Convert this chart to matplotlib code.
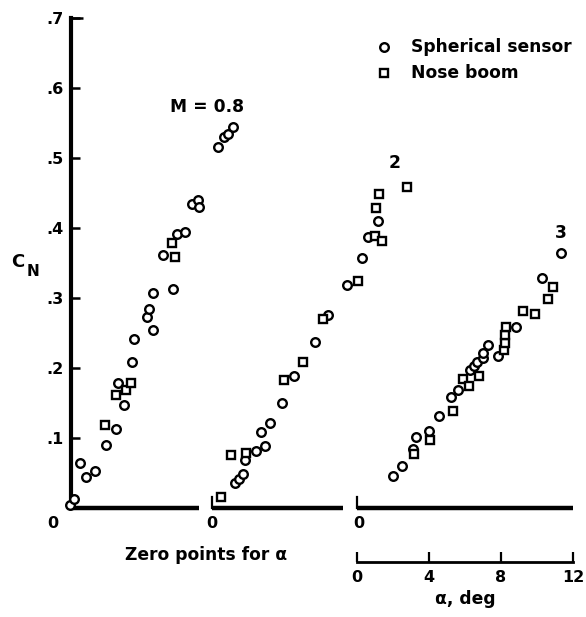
import matplotlib
matplotlib.use("Agg")
import matplotlib.pyplot as plt
from matplotlib.lines import Line2D

# ---------------------------------------------------------------------------
# Normal-force coefficient vs angle of attack, three Mach numbers.
# Each Mach number has its own alpha origin along the shared abscissa.
# ---------------------------------------------------------------------------
mach_labels = ["M = 0.8", "2", "3"]
alpha_zero = [-0.06, 7.83, 15.89]          # deg, where each group's alpha = 0 sits

# M = 0.8
m08_sphere_alpha = [0.0, 0.24, 0.56, 0.87, 1.39, 2.0, 2.56, 2.68, 3.02, 3.43, 3.57,
                    4.26, 4.41, 4.63, 4.59, 5.18, 5.71, 5.93, 6.39, 6.76, 7.13, 7.18,
                    8.24, 8.56, 8.79, 9.07]
m08_sphere_cn = [0.005, 0.013, 0.064, 0.044, 0.053, 0.090, 0.113, 0.179, 0.147, 0.208, 0.241,
                 0.273, 0.285, 0.307, 0.254, 0.361, 0.313, 0.392, 0.395, 0.435, 0.440, 0.430,
                 0.516, 0.530, 0.534, 0.544]
m08_boom_alpha = [1.94, 2.56, 3.11, 3.39, 5.65, 5.83]
m08_boom_cn = [0.119, 0.161, 0.169, 0.179, 0.378, 0.359]

# M = 2
m2_sphere_alpha = [1.28, 1.52, 1.74, 1.83, 2.43, 2.94, 2.72, 3.22, 3.87, 4.56, 5.72,
                   6.46, 7.48, 8.32, 8.65, 9.24]
m2_sphere_cn = [0.036, 0.042, 0.049, 0.069, 0.081, 0.088, 0.108, 0.122, 0.150, 0.189, 0.237,
                0.276, 0.318, 0.357, 0.387, 0.410]
m2_boom_alpha = [0.48, 1.06, 1.87, 4.02, 5.07, 6.18, 8.09, 9.06, 9.43, 9.09, 9.28, 10.82]
m2_boom_cn = [0.016, 0.076, 0.079, 0.183, 0.209, 0.270, 0.325, 0.388, 0.382, 0.429, 0.448, 0.459]

# M = 3
m3_sphere_alpha = [1.98, 2.48, 3.09, 3.28, 4.0, 4.57, 5.22, 5.63, 6.28, 6.5, 6.68, 6.98,
                   7.02, 7.29, 7.82, 8.82, 10.26, 11.33]
m3_sphere_cn = [0.046, 0.060, 0.085, 0.102, 0.110, 0.131, 0.158, 0.169, 0.197, 0.203, 0.209, 0.214,
                0.221, 0.233, 0.217, 0.259, 0.328, 0.365]
m3_boom_alpha = [3.18, 4.06, 5.32, 5.91, 6.22, 6.78, 8.18, 8.22, 8.22, 8.28, 9.21, 9.89,
                 10.59, 10.87]
m3_boom_cn = [0.077, 0.097, 0.138, 0.185, 0.174, 0.188, 0.226, 0.236, 0.247, 0.259, 0.282, 0.277,
              0.298, 0.316]

cn_ticks = [0.1, 0.2, 0.3, 0.4, 0.5, 0.6, 0.7]
cn_tick_labels = [".1", ".2", ".3", ".4", ".5", ".6", ".7"]
alpha_scale_ticks = [0, 4, 8, 12]
axis_segment_len = [7.17, 7.28, 12.0]      # deg, length of each group's baseline

groups = [
    (m08_sphere_alpha, m08_sphere_cn, m08_boom_alpha, m08_boom_cn),
    (m2_sphere_alpha, m2_sphere_cn, m2_boom_alpha, m2_boom_cn),
    (m3_sphere_alpha, m3_sphere_cn, m3_boom_alpha, m3_boom_cn),
]

plt.rcParams["font.family"] = ["DejaVu Sans"]
plt.rcParams["font.weight"] = "bold"
FS = 11.5
FS_TEXT = 12.3

W, H = 586, 617
fig = plt.figure(figsize=(W / 100, H / 100), dpi=100)


def fx(px):
    return px / W


def fy(py):
    return 1 - py / H


PX_PER_DEG = 18.0
ax = fig.add_axes([fx(71), fy(508), (W - 71) / W, 490 / H])
ax.set_xlim(0, (W - 71) / PX_PER_DEG)
ax.set_ylim(0, 0.7)
ax.patch.set_visible(False)
for side in ("top", "right", "bottom"):
    ax.spines[side].set_visible(False)
ax.spines["left"].set_linewidth(3.0)
ax.set_xticks([])
ax.set_yticks(cn_ticks)
ax.set_yticklabels(cn_tick_labels)
ax.tick_params(axis="y", direction="in", length=6.5, width=1.8, pad=5,
               labelsize=FS)
for lab in ax.get_yticklabels():
    lab.set_fontweight("bold")
# longer cap tick at the top of the CN axis
ax.plot([0, 0.65], [0.7, 0.7], color="black", lw=1.8, clip_on=False,
        solid_capstyle="butt")

marker_kw = dict(linestyle="none", markerfacecolor="white", markeredgecolor="black",
                 markeredgewidth=1.7, clip_on=False)

for (sa, scn, ba, bcn), x0, seg in zip(groups, alpha_zero, axis_segment_len):
    ax.plot([x0 + a for a in sa], scn, marker="o", markersize=6.2, zorder=3, **marker_kw)
    ax.plot([x0 + a for a in ba], bcn, marker="s", markersize=5.6, zorder=3, **marker_kw)

# broken baselines, one per Mach number
for i, (x0, seg) in enumerate(zip(alpha_zero, axis_segment_len)):
    start = max(x0, 0)
    ax.plot([start, x0 + seg], [0, 0], color="black", lw=3.2, clip_on=False,
            solid_capstyle="butt", zorder=2)
    if i > 0:
        ax.plot([x0, x0], [0, 0.016], color="black", lw=1.6, clip_on=False, zorder=2)

# group labels
text_kw = dict(fontweight="bold", color="black", ha="center", va="center")
fig.text(fx(207), fy(107), mach_labels[0], fontsize=FS_TEXT, **text_kw)
fig.text(fx(395), fy(163), mach_labels[1], fontsize=FS_TEXT, **text_kw)
fig.text(fx(561), fy(233), mach_labels[2], fontsize=FS_TEXT, **text_kw)

# ordinate label
fig.text(fx(18), fy(262), "C", fontsize=13, **text_kw)
fig.text(fx(33), fy(272), "N", fontsize=11, **text_kw)

# zero-point labels under each baseline
for px in (53, 212, 359):
    fig.text(fx(px), fy(523), "0", fontsize=FS, **text_kw)
fig.text(fx(206), fy(555), "Zero points for α", fontsize=FS_TEXT, **text_kw)

# legend
fig.add_artist(Line2D([fx(384)], [fy(47)], marker="o", markersize=6.2,
                      transform=fig.transFigure, **marker_kw))
fig.add_artist(Line2D([fx(384)], [fy(73)], marker="s", markersize=5.6,
                      transform=fig.transFigure, **marker_kw))
fig.text(fx(411), fy(47), "Spherical sensor", fontsize=FS_TEXT, fontweight="bold",
         ha="left", va="center")
fig.text(fx(411), fy(73), "Nose boom", fontsize=FS_TEXT, fontweight="bold",
         ha="left", va="center")

# alpha scale bar
sc = fig.add_axes([fx(357), fy(562), 216 / W, 0.001])
sc.patch.set_visible(False)
for side in ("top", "right", "left"):
    sc.spines[side].set_visible(False)
sc.spines["bottom"].set_linewidth(2.0)
sc.set_xlim(0, 12)
sc.set_yticks([])
sc.set_xticks(alpha_scale_ticks)
sc.set_xticklabels([str(t) for t in alpha_scale_ticks])
sc.tick_params(axis="x", direction="in", length=7.5, width=1.6, pad=6, labelsize=FS)
for lab in sc.get_xticklabels():
    lab.set_fontweight("bold")
sc.set_xlabel("α, deg", fontsize=FS_TEXT, fontweight="bold", labelpad=3)

fig.savefig("out.png", dpi=100)
